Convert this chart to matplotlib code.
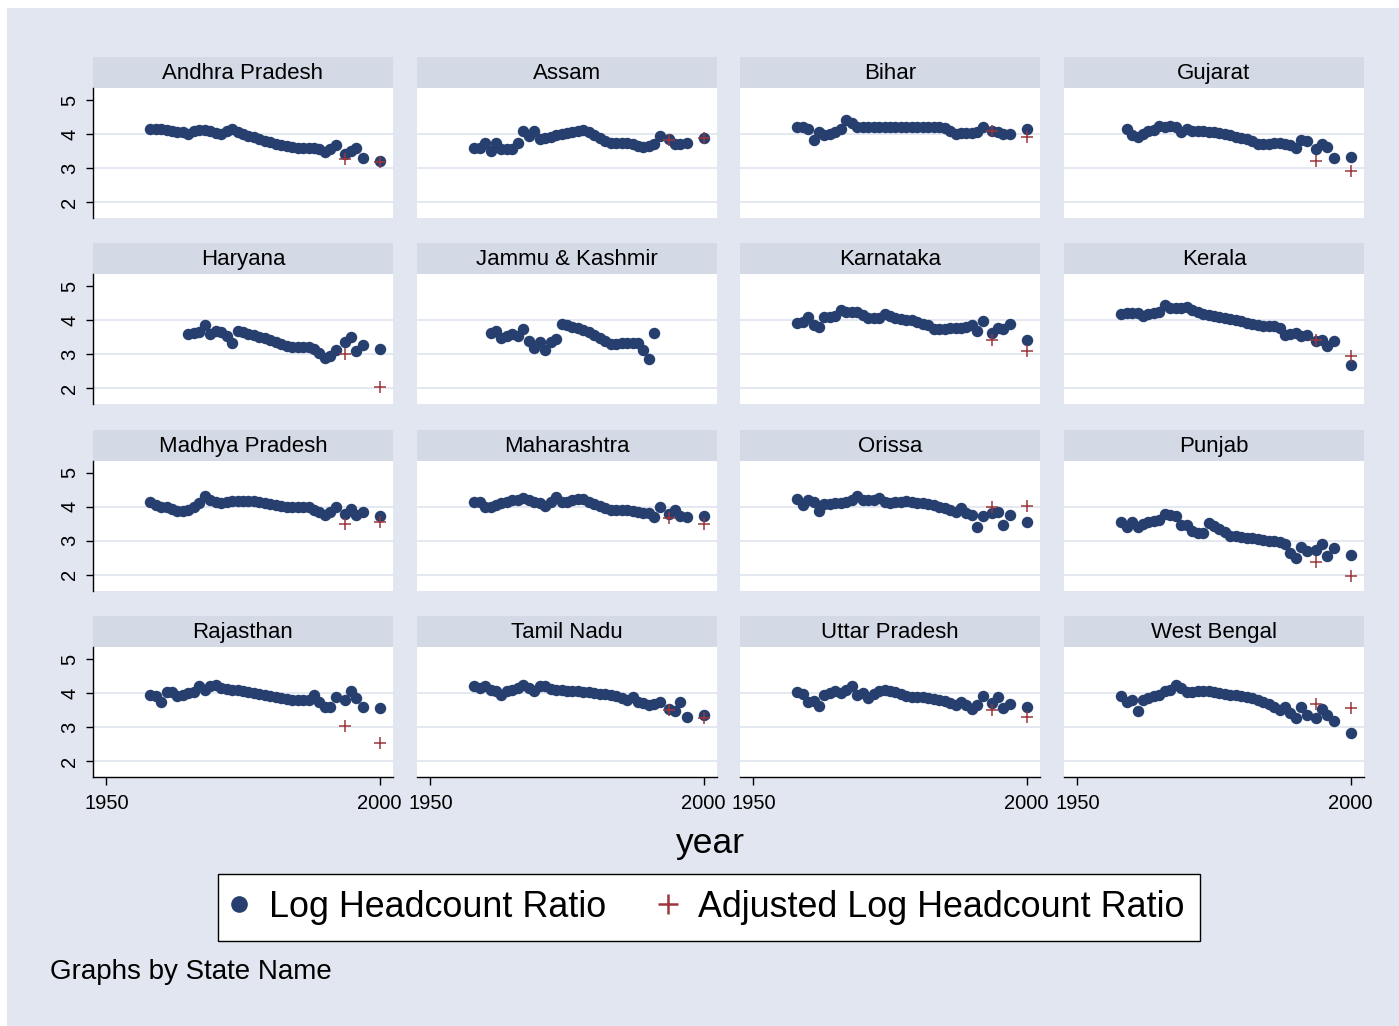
import matplotlib
matplotlib.use('Agg')
import matplotlib.pyplot as plt
from matplotlib.patches import Rectangle
from matplotlib.lines import Line2D

plt.rcParams['font.family'] = ['Liberation Sans', 'DejaVu Sans']

# ---------------- data ----------------
states = ["Andhra Pradesh", "Assam", "Bihar", "Gujarat",
          "Haryana", "Jammu & Kashmir", "Karnataka", "Kerala",
          "Madhya Pradesh", "Maharashtra", "Orissa", "Punjab",
          "Rajasthan", "Tamil Nadu", "Uttar Pradesh", "West Bengal"]

years_main = list(range(1958, 1993))
years_late = [1993.75, 1994.75, 1995.75, 1997, 2000]
years_adj = [1993.75, 2000]

N = None
andhra_main = [4.15, 4.15, 4.15, 4.12, 4.08, 4.05, 4.05, 4.0, 4.1, 4.12,
               4.12, 4.08, 4.03, 4.0, 4.1, 4.15, 4.05, 4.0, 3.95, 3.9,
               3.85, 3.8, 3.76, 3.72, 3.68, 3.64, 3.62, 3.6, 3.6, 3.58,
               3.58, 3.55, 3.48, 3.55, 3.67]
andhra_late = [3.4, 3.5, 3.6, 3.28, 3.2]
andhra_adj = [3.27, 3.17]

assam_main = [3.6, 3.6, 3.75, 3.5, 3.75, 3.55, 3.55, 3.55, 3.75, 4.1,
              3.95, 4.1, 3.85, 3.87, 3.92, 3.97, 4.0, 4.02, 4.05, 4.08,
              4.12, 4.05, 3.97, 3.88, 3.8, 3.75, 3.75, 3.75, 3.73, 3.7,
              3.65, 3.62, 3.65, 3.7, 3.95]
assam_late = [3.85, 3.72, 3.72, 3.75, 3.87]
assam_adj = [3.83, 3.87]

bihar_main = [4.2, 4.2, 4.15, 3.83, 4.05, 3.97, 4.0, 4.07, 4.15, 4.42,
              4.32, 4.2, 4.2, 4.22, 4.2, 4.2, 4.22, 4.2, 4.2, 4.22,
              4.2, 4.2, 4.2, 4.22, 4.2, 4.2, 4.2, 4.18, 4.1, 4.0,
              4.02, 4.02, 4.02, 4.05, 4.2]
bihar_late = [4.1, 4.05, 4.0, 4.0, 4.15]
bihar_adj = [4.08, 3.92]

gujarat_main = [N, 4.15, 3.97, 3.92, 4.0, 4.08, 4.12, 4.25, 4.22, 4.25,
                4.2, 4.05, 4.15, 4.1, 4.1, 4.08, 4.07, 4.05, 4.02, 4.0,
                3.97, 3.92, 3.88, 3.85, 3.8, 3.7, 3.7, 3.72, 3.73, 3.73,
                3.7, 3.67, 3.6, 3.83, 3.8]
gujarat_late = [3.55, 3.72, 3.63, 3.28, 3.31]
gujarat_adj = [3.22, 2.9]

haryana_main = [N, N, N, N, N, N, N, 3.6, 3.63, 3.65,
                3.87, 3.6, 3.7, 3.65, 3.55, 3.32, 3.7, 3.65, 3.6, 3.57,
                3.52, 3.47, 3.42, 3.35, 3.3, 3.23, 3.22, 3.22, 3.22, 3.22,
                3.15, 3.05, 2.88, 2.95, 3.13]
haryana_late = [3.35, 3.52, 3.1, 3.28, 3.15]
haryana_adj = [3.0, 2.05]

jk_main = [N, N, N, 3.63, 3.7, 3.48, 3.55, 3.6, 3.55, 3.73,
           3.4, 3.2, 3.35, 3.12, 3.35, 3.45, 3.9, 3.85, 3.8, 3.77,
           3.72, 3.65, 3.57, 3.48, 3.4, 3.3, 3.3, 3.32, 3.33, 3.33,
           3.32, 3.12, 2.87, 3.62, N]
jk_late = [N, N, N, N, N]
jk_adj = [N, N]

karnataka_main = [3.92, 3.95, 4.1, 3.85, 3.8, 4.1, 4.1, 4.12, 4.3, 4.25,
                  4.25, 4.23, 4.15, 4.08, 4.07, 4.08, 4.18, 4.12, 4.08, 4.05,
                  4.02, 4.0, 3.95, 3.9, 3.85, 3.75, 3.75, 3.75, 3.77, 3.77,
                  3.78, 3.8, 3.85, 3.7, 3.98]
karnataka_late = [3.64, 3.78, 3.75, 3.88, 3.41]
karnataka_adj = [3.41, 3.09]

kerala_main = [4.2, 4.22, 4.22, 4.22, 4.12, 4.18, 4.22, 4.25, 4.44, 4.35,
               4.35, 4.35, 4.4, 4.3, 4.25, 4.2, 4.17, 4.13, 4.1, 4.07,
               4.03, 4.0, 3.97, 3.93, 3.88, 3.85, 3.83, 3.82, 3.82, 3.78,
               3.58, 3.6, 3.62, 3.55, 3.58]
kerala_late = [3.4, 3.43, 3.25, 3.4, 2.7]
kerala_adj = [3.41, 2.95]

mp_main = [4.15, 4.05, 4.0, 4.0, 3.93, 3.88, 3.88, 3.9, 4.0, 4.1,
           4.3, 4.2, 4.15, 4.12, 4.15, 4.17, 4.17, 4.17, 4.17, 4.17,
           4.15, 4.12, 4.08, 4.05, 4.02, 4.0, 4.0, 4.0, 4.0, 4.0,
           3.9, 3.85, 3.75, 3.85, 3.98]
mp_late = [3.78, 3.93, 3.75, 3.85, 3.73]
mp_adj = [3.49, 3.56]

maha_main = [4.15, 4.15, 4.0, 3.98, 4.05, 4.1, 4.15, 4.2, 4.2, 4.25,
             4.2, 4.15, 4.1, 4.02, 4.15, 4.28, 4.15, 4.15, 4.2, 4.22,
             4.22, 4.15, 4.08, 4.02, 3.95, 3.9, 3.9, 3.9, 3.9, 3.88,
             3.85, 3.82, 3.8, 3.7, 3.98]
maha_late = [3.78, 3.9, 3.72, 3.7, 3.72]
maha_adj = [3.67, 3.49]

orissa_main = [4.22, 4.05, 4.2, 4.15, 3.88, 4.08, 4.08, 4.1, 4.12, 4.15,
               4.18, 4.32, 4.2, 4.2, 4.2, 4.25, 4.15, 4.12, 4.13, 4.15,
               4.17, 4.15, 4.12, 4.1, 4.08, 4.05, 4.0, 3.95, 3.9, 3.85,
               3.95, 3.82, 3.75, 3.4, 3.72]
orissa_late = [3.8, 3.85, 3.46, 3.75, 3.54]
orissa_adj = [3.98, 4.03]

punjab_main = [3.55, 3.4, 3.54, 3.4, 3.5, 3.55, 3.57, 3.6, 3.78, 3.75,
               3.73, 3.46, 3.45, 3.29, 3.23, 3.23, 3.52, 3.42, 3.35, 3.25,
               3.15, 3.13, 3.1, 3.08, 3.07, 3.05, 3.03, 3.0, 2.98, 2.95,
               2.9, 2.65, 2.5, 2.8, 2.7]
punjab_late = [2.72, 2.9, 2.55, 2.77, 2.58]
punjab_adj = [2.38, 1.95]

raj_main = [3.93, 3.9, 3.73, 4.03, 4.02, 3.9, 3.95, 4.0, 4.02, 4.2,
            4.08, 4.2, 4.25, 4.15, 4.12, 4.1, 4.08, 4.05, 4.02, 4.0,
            3.97, 3.95, 3.92, 3.88, 3.85, 3.83, 3.8, 3.8, 3.78, 3.8,
            3.93, 3.75, 3.6, 3.6, 3.87]
raj_late = [3.78, 4.05, 3.85, 3.6, 3.55]
raj_adj = [3.04, 2.53]

tn_main = [4.22, 4.15, 4.22, 4.1, 4.05, 3.95, 4.05, 4.1, 4.15, 4.25,
           4.15, 4.05, 4.22, 4.22, 4.12, 4.1, 4.08, 4.07, 4.07, 4.05,
           4.03, 4.02, 4.0, 3.98, 3.98, 3.95, 3.9, 3.85, 3.8, 3.87,
           3.75, 3.7, 3.65, 3.68, 3.75]
tn_late = [3.54, 3.48, 3.75, 3.28, 3.35]
tn_adj = [3.51, 3.26]

up_main = [4.03, 3.97, 3.73, 3.77, 3.63, 3.93, 4.0, 4.05, 4.0, 4.1,
           4.22, 3.95, 4.0, 3.85, 3.98, 4.05, 4.1, 4.05, 4.02, 3.97,
           3.9, 3.88, 3.87, 3.87, 3.85, 3.82, 3.8, 3.77, 3.72, 3.65,
           3.75, 3.65, 3.52, 3.65, 3.9]
up_late = [3.7, 3.87, 3.56, 3.67, 3.58]
up_adj = [3.51, 3.28]

wb_main = [3.9, 3.75, 3.8, 3.48, 3.8, 3.85, 3.9, 3.95, 4.05, 4.1,
           4.25, 4.15, 4.03, 4.03, 4.05, 4.05, 4.05, 4.03, 4.0, 3.98,
           3.95, 3.93, 3.9, 3.88, 3.85, 3.8, 3.75, 3.67, 3.6, 3.5,
           3.6, 3.4, 3.27, 3.6, 3.35]
wb_late = [3.27, 3.53, 3.36, 3.18, 2.82]
wb_adj = [3.68, 3.56]

main_series = [andhra_main, assam_main, bihar_main, gujarat_main,
               haryana_main, jk_main, karnataka_main, kerala_main,
               mp_main, maha_main, orissa_main, punjab_main,
               raj_main, tn_main, up_main, wb_main]
late_series = [andhra_late, assam_late, bihar_late, gujarat_late,
               haryana_late, jk_late, karnataka_late, kerala_late,
               mp_late, maha_late, orissa_late, punjab_late,
               raj_late, tn_late, up_late, wb_late]
adj_series = [andhra_adj, assam_adj, bihar_adj, gujarat_adj,
              haryana_adj, jk_adj, karnataka_adj, kerala_adj,
              mp_adj, maha_adj, orissa_adj, punjab_adj,
              raj_adj, tn_adj, up_adj, wb_adj]

y_ticks = [2, 3, 4, 5]
x_ticks = [1950, 2000]

# ---------------- style ----------------
BG = '#e1e6f0'
STRIP = '#d3d9e5'
GRID = '#dfe4ee'
NAVY = '#263f6e'
RED = '#9c363b'

W, H = 1399, 1026
fig = plt.figure(figsize=(W / 100, H / 100), dpi=100)
fig.patch.set_facecolor('white')
fig.patches.append(Rectangle((7 / W, 0), 1, 1 - 8 / H, transform=fig.transFigure,
                             facecolor=BG, edgecolor='none', zorder=-10))


def rect(l, t, w, h):
    return [l / W, 1 - (t + h) / H, w / W, h / H]


col_lefts = [93, 417, 740, 1064]
row_tops = [88, 274.3, 460.6, 647]
PW, PH, SH = 300, 130, 31

for i, state in enumerate(states):
    r, c = divmod(i, 4)
    l, t = col_lefts[c], row_tops[r]
    sax = fig.add_axes(rect(l, t - SH, PW, SH))
    sax.set_facecolor(STRIP)
    sax.set_xticks([])
    sax.set_yticks([])
    for s in sax.spines.values():
        s.set_visible(False)
    sax.text(0.5, 0.47, state, ha='center', va='center', fontsize=16,
             transform=sax.transAxes)

    ax = fig.add_axes(rect(l, t, PW, PH))
    ax.set_facecolor('white')
    ax.set_xlim(1947.53, 2002.47)
    ax.set_ylim(1.53, 5.353)
    for yv in y_ticks[:-1]:
        ax.axhline(yv, color=GRID, lw=1.2, zorder=0)

    xm = [x for x, v in zip(years_main, main_series[i]) if v is not None]
    ym = [v for v in main_series[i] if v is not None]
    xl = [x for x, v in zip(years_late, late_series[i]) if v is not None]
    yl = [v for v in late_series[i] if v is not None]
    ax.scatter(xm + xl, ym + yl, s=68, color=NAVY, linewidths=0, zorder=3,
               clip_on=False)
    xa = [x for x, v in zip(years_adj, adj_series[i]) if v is not None]
    ya = [v for v in adj_series[i] if v is not None]
    ax.plot(xa, ya, ls='none', marker='+', markersize=9, mew=1.1, color=RED,
            zorder=4, clip_on=False)

    for name, s in ax.spines.items():
        s.set_visible(False)
    ax.set_yticks(y_ticks)
    ax.set_xticks(x_ticks)
    if c == 0:
        ax.spines['left'].set_visible(True)
        ax.spines['left'].set_linewidth(1.0)
        ax.tick_params(axis='y', direction='out', length=5, width=1, pad=5,
                       labelsize=14.5)
        for lbl in ax.get_yticklabels():
            lbl.set_rotation(90)
            lbl.set_va('center')
            lbl.set_ha('right')
    else:
        ax.tick_params(axis='y', length=0, labelleft=False)
    if r == 3:
        ax.spines['bottom'].set_visible(True)
        ax.spines['bottom'].set_linewidth(1.0)
        ax.tick_params(axis='x', direction='out', length=5.5, width=1, pad=6.5,
                       labelsize=14.5)
    else:
        ax.tick_params(axis='x', length=0, labelbottom=False)

fig.text(710 / W, 1 - 844 / H, 'year', fontsize=25.5, ha='center', va='center')

handles = [Line2D([], [], ls='none', marker='o', markersize=12, color=NAVY,
                  markeredgewidth=0),
           Line2D([], [], ls='none', marker='+', markersize=14, mew=1.8, color=RED)]
leg = fig.legend(handles, ['Log Headcount Ratio', 'Adjusted Log Headcount Ratio'],
                 loc='center', bbox_to_anchor=(709 / W, 1 - 907.5 / H), ncol=2,
                 fontsize=25.8, frameon=True, fancybox=False, edgecolor='black',
                 facecolor='white', framealpha=1, borderpad=0.45, handlelength=0.3,
                 handletextpad=0.68, columnspacing=1.58)
leg.get_frame().set_linewidth(1.0)

fig.text(50 / W, 1 - 972 / H, 'Graphs by State Name', fontsize=20, ha='left',
         va='center')

fig.savefig('out.png', dpi=100, facecolor=fig.get_facecolor())
